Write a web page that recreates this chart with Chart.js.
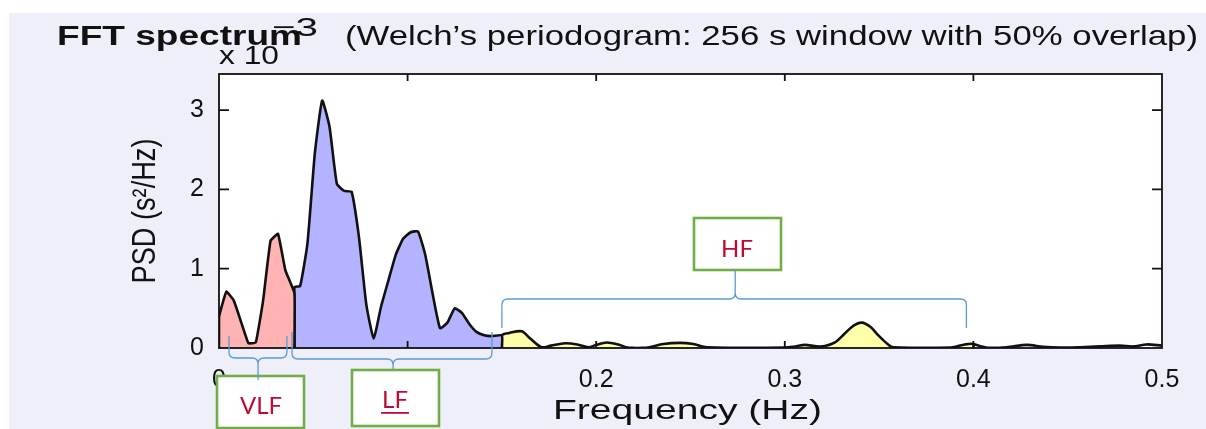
<!DOCTYPE html>
<html>
<head>
<meta charset="utf-8">
<script src="https://cdn.jsdelivr.net/npm/chart.js@4.4.1/dist/chart.umd.min.js"></script>
<style>
  html, body { margin: 0; padding: 0; background: #fff; }
  canvas { display: block; }
</style>
</head>
<body>
<canvas id="psdChart" width="1206" height="429"></canvas>
<script>
// Texts
const titleMain = "FFT spectrum";
const titleSub = "(Welch\u2019s periodogram: 256 s window with 50% overlap)";
const xTitle = "Frequency (Hz)";
const yTitle = "PSD (s\u00B2/Hz)";
const bandNames = ["VLF", "LF", "HF"];

// PSD values (x 10^-3 s^2/Hz) per band
const vlfFreq = [0, 0.0039, 0.0078, 0.0117, 0.0156, 0.0195, 0.0234, 0.0273, 0.0313, 0.0352, 0.04];
const vlfPsd  = [0.39, 0.71, 0.60, 0.33, 0.06, 0.07, 0.60, 1.35, 1.44, 0.98, 0.69];

const lfFreq = [0.04, 0.043, 0.0469, 0.0508, 0.0547, 0.0586, 0.0625, 0.0664, 0.0703, 0.0742, 0.0781, 0.082,
  0.0859, 0.0898, 0.0938, 0.0977, 0.1016, 0.1055, 0.1094, 0.1133, 0.1172, 0.1211, 0.125, 0.1289, 0.1328,
  0.1367, 0.1406, 0.1445, 0.15];
const lfPsd  = [0.77, 0.78, 1.32, 2.45, 3.12, 2.79, 2.07, 1.98, 1.97, 1.40, 0.55, 0.12,
  0.52, 0.85, 1.18, 1.38, 1.46, 1.47, 1.17, 0.68, 0.25, 0.32, 0.50, 0.44, 0.30,
  0.20, 0.16, 0.15, 0.16];

const hfFreq = [0.15, 0.154, 0.1605, 0.165, 0.171, 0.176, 0.1835, 0.19, 0.196, 0.2, 0.2056, 0.2117, 0.217,
  0.2268, 0.2356, 0.2444, 0.2515, 0.2586, 0.3, 0.3054, 0.3107, 0.3169, 0.3213, 0.3266, 0.3319, 0.3363,
  0.3408, 0.3452, 0.3496, 0.354, 0.3575, 0.388, 0.3955, 0.4];
const hfPsd  = [0.16, 0.19, 0.21, 0.12, 0.01, 0.03, 0.06, 0.045, 0.01, 0.04, 0.07, 0.045, 0.005,
  0.005, 0.05, 0.065, 0.05, 0.01, 0.005, 0.02, 0.04, 0.02, 0.025, 0.07, 0.185, 0.28,
  0.32, 0.27, 0.16, 0.06, 0.01, 0.005, 0.045, 0.05];

const restFreq = [0.4, 0.407, 0.4176, 0.4283, 0.437, 0.446, 0.4565, 0.467, 0.4777, 0.4848, 0.4918, 0.5];
const restPsd  = [0.05, 0.005, 0.01, 0.04, 0.015, 0.005, 0.01, 0.02, 0.03, 0.02, 0.045, 0.03];

// Braces: [left, right, tip] in Hz
const vlfBrace = [0.0053, 0.036, 0.0207];
const lfBrace  = [0.0387, 0.1447, 0.0923];
const hfBrace  = [0.15, 0.3963, 0.2737];

const lineColor = "#111";
const braceColor = "#5b9bd5";
const boxColor = "#70ad47";
const bandTextColor = "#c00a36";

// Points of one band, closed down to zero at both ends
const toPoints = (freq, psd, closed) => {
  const pts = freq.map((f, i) => ({ x: f, y: psd[i] }));
  if (closed) {
    pts.unshift({ x: freq[0], y: 0 });
    pts.push({ x: freq[freq.length - 1], y: 0 });
  }
  return pts;
};

const bandSet = (pts, fillColor, tension) => ({
  data: pts,
  fill: fillColor ? "origin" : false,
  backgroundColor: fillColor || "transparent",
  borderColor: lineColor,
  borderWidth: 2.6,
  borderJoinStyle: "round",
  pointRadius: 0,
  tension: tension
});

// Text squeezed/stretched to a given width
const fitText = (ctx, text, x, y, w, font) => {
  ctx.font = font;
  const k = w / ctx.measureText(text).width;
  ctx.save();
  ctx.translate(x, y);
  ctx.scale(k, 1);
  ctx.textAlign = "left";
  ctx.textBaseline = "alphabetic";
  ctx.fillText(text, 0, 0);
  ctx.restore();
};

// Curly brace, tip pointing up or down
const drawBrace = (ctx, xl, xr, xt, yEnd, yMid, yTip) => {
  const d = Math.sign(yTip - yMid);
  const r = 6;
  ctx.beginPath();
  ctx.moveTo(xl, yEnd);
  ctx.lineTo(xl, yMid - d * r);
  ctx.quadraticCurveTo(xl, yMid, xl + r, yMid);
  ctx.lineTo(xt - r, yMid);
  ctx.quadraticCurveTo(xt, yMid, xt, yMid + d * r);
  ctx.lineTo(xt, yTip);
  ctx.moveTo(xr, yEnd);
  ctx.lineTo(xr, yMid - d * r);
  ctx.quadraticCurveTo(xr, yMid, xr - r, yMid);
  ctx.lineTo(xt + r, yMid);
  ctx.quadraticCurveTo(xt, yMid, xt, yMid + d * r);
  ctx.stroke();
};

const drawBox = (ctx, x0, y0, x1, y1, text, tx, ty, underline) => {
  ctx.fillStyle = "#fff";
  ctx.fillRect(x0, y0, x1 - x0, y1 - y0);
  ctx.strokeStyle = boxColor;
  ctx.lineWidth = 2.6;
  ctx.strokeRect(x0, y0, x1 - x0, y1 - y0);
  ctx.fillStyle = bandTextColor;
  ctx.font = "24px Lato";
  ctx.textAlign = "center";
  ctx.textBaseline = "alphabetic";
  ctx.fillText(text, tx, ty);
  if (underline) {
    const w = ctx.measureText(text).width;
    ctx.fillRect(tx - w / 2 - 1, ty + 4, w + 2, 1.8);
  }
};

const frame = {
  id: "frame",
  beforeDraw(chart) {
    const { ctx, chartArea: a, width, height } = chart;
    ctx.save();
    ctx.fillStyle = "#fff";
    ctx.fillRect(0, 0, width, height);
    ctx.fillStyle = "#efeffa";
    ctx.fillRect(9, 13, width - 9, height - 13);
    ctx.fillStyle = "#fff";
    ctx.fillRect(a.left, a.top, a.right - a.left, a.bottom - a.top);
    ctx.restore();
  },
  afterDatasetsDraw(chart) {
    const { ctx, chartArea: a } = chart;
    const xs = chart.scales.x;
    const ys = chart.scales.y;
    ctx.save();
    ctx.strokeStyle = lineColor;
    ctx.lineWidth = 1.8;
    ctx.strokeRect(a.left, a.top, a.right - a.left, a.bottom - a.top);
    ctx.beginPath();
    xs.ticks.forEach(t => {
      const px = xs.getPixelForValue(t.value);
      if (px <= a.left + 1 || px >= a.right - 1) return;
      ctx.moveTo(px, a.bottom); ctx.lineTo(px, a.bottom - 7);
      ctx.moveTo(px, a.top); ctx.lineTo(px, a.top + 7);
    });
    ys.ticks.forEach(t => {
      const py = ys.getPixelForValue(t.value);
      if (py >= a.bottom - 1) return;
      ctx.moveTo(a.left, py); ctx.lineTo(a.left + 10, py);
      ctx.moveTo(a.right, py); ctx.lineTo(a.right - 10, py);
    });
    ctx.stroke();
    ctx.restore();
  },
  afterDraw(chart) {
    const { ctx } = chart;
    const xs = chart.scales.x;
    ctx.save();
    ctx.fillStyle = lineColor;

    // title and exponent
    fitText(ctx, titleMain, 57, 45, 245, "bold 28px 'Liberation Sans'");
    fitText(ctx, titleSub, 345, 45, 853, "28px 'Liberation Sans'");
    fitText(ctx, "x 10", 219, 64, 60, "26px 'Liberation Sans'");
    fitText(ctx, "\u22123", 272, 36, 46, "26px 'Liberation Sans'");

    // axis titles
    fitText(ctx, xTitle, 553, 419, 269, "27px 'Liberation Sans'");
    ctx.font = "27px 'Liberation Sans'";
    const yw = ctx.measureText(yTitle).width;
    ctx.save();
    ctx.translate(155, 211);
    ctx.rotate(-Math.PI / 2);
    ctx.scale(145 / yw, 1.2);
    ctx.textAlign = "center";
    ctx.textBaseline = "alphabetic";
    ctx.fillText(yTitle, 0, 0);
    ctx.restore();

    // band boxes
    drawBox(ctx, 217, 376, 304, 428, bandNames[0], 261, 414, false);
    drawBox(ctx, 352, 370, 439, 426, bandNames[1], 395, 408, true);
    drawBox(ctx, 694, 218, 781, 270, bandNames[2], 737, 257, false);

    // braces
    ctx.strokeStyle = braceColor;
    ctx.lineWidth = 1.3;
    const px = v => xs.getPixelForValue(v);
    drawBrace(ctx, px(vlfBrace[0]), px(vlfBrace[1]), px(vlfBrace[2]), 336, 358, 380);
    drawBrace(ctx, px(lfBrace[0]), px(lfBrace[1]), px(lfBrace[2]), 332, 359, 369);
    drawBrace(ctx, px(hfBrace[0]), px(hfBrace[1]), px(hfBrace[2]), 328, 299, 270);
    ctx.restore();
  }
};

const ctx = document.getElementById("psdChart").getContext("2d");
const psdChart = new Chart(ctx, {
  type: "line",
  data: {
    datasets: [
      bandSet(toPoints(vlfFreq, vlfPsd, true), "#ffb3b3", 0.1),
      bandSet(toPoints(lfFreq, lfPsd, true), "#b3b3ff", 0.15),
      bandSet(toPoints(hfFreq, hfPsd, true), "#ffffaa", 0.3),
      bandSet(toPoints(restFreq, restPsd, false), null, 0.3)
    ]
  },
  options: {
    responsive: false,
    animation: false,
    devicePixelRatio: 1,
    layout: { padding: { top: 74, right: 44, left: 0, bottom: 0 } },
    plugins: {
      legend: { display: false },
      tooltip: { enabled: false }
    },
    scales: {
      x: {
        type: "linear",
        min: 0,
        max: 0.5,
        grid: { display: false, drawTicks: false },
        border: { display: false },
        afterFit: s => { s.height = 81; },
        ticks: {
          stepSize: 0.1,
          autoSkip: false,
          maxRotation: 0,
          padding: 17,
          color: lineColor,
          font: { family: "'Liberation Sans'", size: 25 },
          callback: v => (v === 0 ? "0" : v.toFixed(1))
        }
      },
      y: {
        min: 0,
        max: 3.455,
        grid: { display: false, drawTicks: false },
        border: { display: false },
        afterFit: s => { s.width = 219; },
        ticks: {
          stepSize: 1,
          includeBounds: false,
          padding: 15,
          color: lineColor,
          font: { family: "'Liberation Sans'", size: 25 },
          callback: v => String(Math.round(v))
        }
      }
    }
  },
  plugins: [frame]
});
</script>
</body>
</html>
